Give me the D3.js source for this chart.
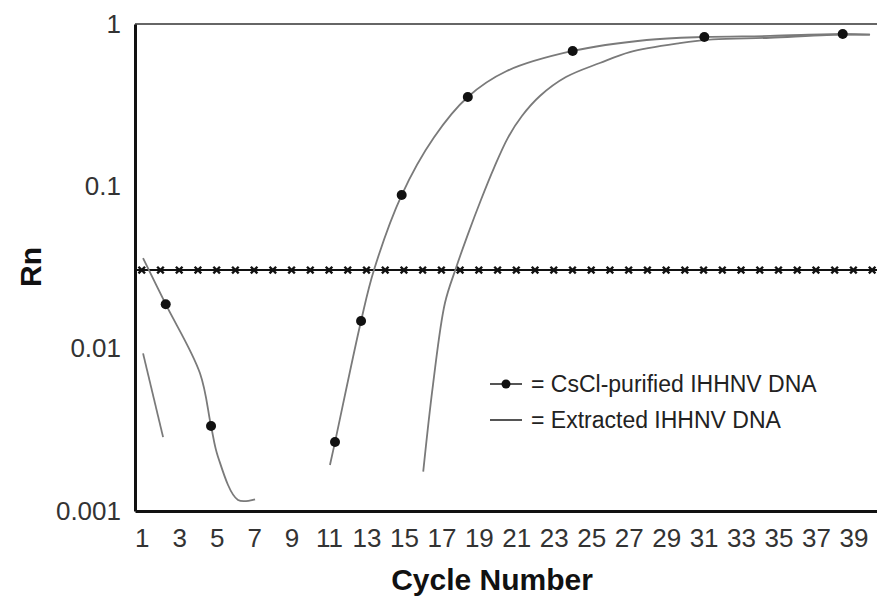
<!DOCTYPE html>
<html>
<head>
<meta charset="utf-8">
<script src="https://cdn.jsdelivr.net/npm/d3@7"></script>
<style>
  body { margin: 0; background: #fff; }
  svg text { font-family: "Liberation Sans", Arial, sans-serif; }
</style>
</head>
<body>
<div id="chart"></div>
<script>
// tick labels
var cycleTicks = d3.range(1, 40, 2);
var rnTicks = [0.001, 0.01, 0.1, 1];

// threshold line and its markers (one per cycle)
var threshold = 0.0305;
var thresholdCycles = d3.range(1, 41);

// CsCl-purified IHHNV DNA (two pieces of curve + the dots on it)
var csclEarly = [[1.07, 0.0361], [2.28, 0.0188], [4.11, 0.00705], [4.70, 0.00334],
  [5.07, 0.00216], [6.14, 0.00117], [7.05, 0.00118]];
var csclLate = [[11.05, 0.00192], [11.32, 0.00266], [12.71, 0.0148], [13.40, 0.0305],
  [14.88, 0.0884], [16.6, 0.200], [18.41, 0.355], [20.49, 0.513], [24.01, 0.682],
  [27.96, 0.797], [31.04, 0.832], [34.55, 0.844], [38.43, 0.868], [39.89, 0.859]];
var csclDots = [[2.28, 0.0188], [4.70, 0.00334], [11.32, 0.00266], [12.71, 0.0148],
  [14.88, 0.0884], [18.41, 0.355], [24.01, 0.682], [31.04, 0.832], [38.43, 0.868]];

// Extracted IHHNV DNA
var extrEarly = [[1.07, 0.00935], [2.14, 0.00285]];
var extrLate = [[16.03, 0.00175], [16.55, 0.00597], [17.19, 0.0191], [17.78, 0.0314],
  [18.42, 0.0508], [19.11, 0.0824], [19.81, 0.130], [20.55, 0.199], [21.30, 0.271],
  [22.26, 0.360], [23.65, 0.471], [25.46, 0.575], [27.06, 0.672], [29.73, 0.762],
  [31.50, 0.803], [34.54, 0.823], [37.58, 0.855], [39.87, 0.859]];

var width = 877, height = 597;
var plotLeft = 135, plotTop = 24, plotBottom = 511, plotRight = 877;

var svg = d3.select("#chart").append("svg")
    .attr("width", width)
    .attr("height", height);

var x = d3.scaleLinear().domain([0.64, 40.26]).range([plotLeft, plotRight]);
var y = d3.scaleLog().domain([0.001, 1]).range([plotBottom, plotTop]);

svg.append("defs").append("clipPath").attr("id", "plot")
  .append("rect").attr("x", plotLeft).attr("y", plotTop - 2)
  .attr("width", plotRight - plotLeft).attr("height", plotBottom - plotTop + 4);

// top border
svg.append("line")
    .attr("x1", plotLeft).attr("x2", plotRight)
    .attr("y1", plotTop).attr("y2", plotTop)
    .attr("stroke", "#666").attr("stroke-width", 2);

var line = d3.line()
    .x(function(d) { return x(d[0]); })
    .y(function(d) { return y(d[1]); })
    .curve(d3.curveCatmullRom.alpha(0.5));

var plot = svg.append("g").attr("clip-path", "url(#plot)");

// threshold
plot.append("line")
    .attr("x1", plotLeft).attr("x2", plotRight)
    .attr("y1", y(threshold)).attr("y2", y(threshold))
    .attr("stroke", "#111").attr("stroke-width", 2);

plot.selectAll(".thr").data(thresholdCycles).enter()
  .append("path")
    .attr("class", "thr")
    .attr("d", d3.symbol().type(d3.symbolTimes).size(30))
    .attr("transform", function(d) { return "translate(" + x(d) + "," + y(threshold) + ")"; })
    .attr("stroke", "#111").attr("stroke-width", 2.4).attr("fill", "none");

// curves
[csclEarly, csclLate, extrEarly, extrLate].forEach(function(seg) {
  plot.append("path")
      .datum(seg)
      .attr("d", line)
      .attr("fill", "none")
      .attr("stroke", "#7a7a7a")
      .attr("stroke-width", 1.8);
});

plot.selectAll(".dot").data(csclDots).enter()
  .append("circle")
    .attr("class", "dot")
    .attr("cx", function(d) { return x(d[0]); })
    .attr("cy", function(d) { return y(d[1]); })
    .attr("r", 5)
    .attr("fill", "#111");

// axes
var xAxis = d3.axisBottom(x).tickValues(cycleTicks).tickSize(0).tickPadding(18)
    .tickFormat(d3.format("d"));
var yAxis = d3.axisLeft(y).tickValues(rnTicks).tickSize(0).tickPadding(14)
    .tickFormat(function(d) { return d === 1 ? "1" : String(d); });

var gx = svg.append("g")
    .attr("transform", "translate(0," + plotBottom + ")")
    .call(xAxis);
gx.select(".domain").attr("stroke", "#111").attr("stroke-width", 3);
gx.selectAll("text")
    .attr("font-size", 26)
    .attr("fill", "#333")
    .style("font-family", "'Liberation Sans', Arial, sans-serif");

var gy = svg.append("g")
    .attr("transform", "translate(" + plotLeft + ",0)")
    .call(yAxis);
gy.select(".domain").attr("stroke", "#111").attr("stroke-width", 3);
gy.selectAll("text")
    .attr("font-size", 26)
    .attr("fill", "#333")
    .style("font-family", "'Liberation Sans', Arial, sans-serif");

// axis titles
svg.append("text")
    .attr("x", 492).attr("y", 590)
    .attr("text-anchor", "middle")
    .attr("font-size", 30).attr("font-weight", "bold")
    .attr("fill", "#111")
    .text("Cycle Number");

svg.append("text")
    .attr("transform", "translate(41,267)rotate(-90)")
    .attr("text-anchor", "middle")
    .attr("font-size", 30).attr("font-weight", "bold")
    .attr("fill", "#111")
    .text("Rn");

// legend
var legend = svg.append("g");
legend.append("line")
    .attr("x1", 490).attr("x2", 522).attr("y1", 384).attr("y2", 384)
    .attr("stroke", "#555").attr("stroke-width", 2);
legend.append("circle").attr("cx", 506).attr("cy", 384).attr("r", 4.5).attr("fill", "#111");
legend.append("text")
    .attr("x", 531).attr("y", 392)
    .attr("font-size", 23).attr("fill", "#222")
    .text("= CsCl-purified IHHNV DNA");

legend.append("line")
    .attr("x1", 490).attr("x2", 522).attr("y1", 420).attr("y2", 420)
    .attr("stroke", "#555").attr("stroke-width", 2);
legend.append("text")
    .attr("x", 531).attr("y", 428)
    .attr("font-size", 23).attr("fill", "#222")
    .text("= Extracted IHHNV DNA");
</script>
</body>
</html>
